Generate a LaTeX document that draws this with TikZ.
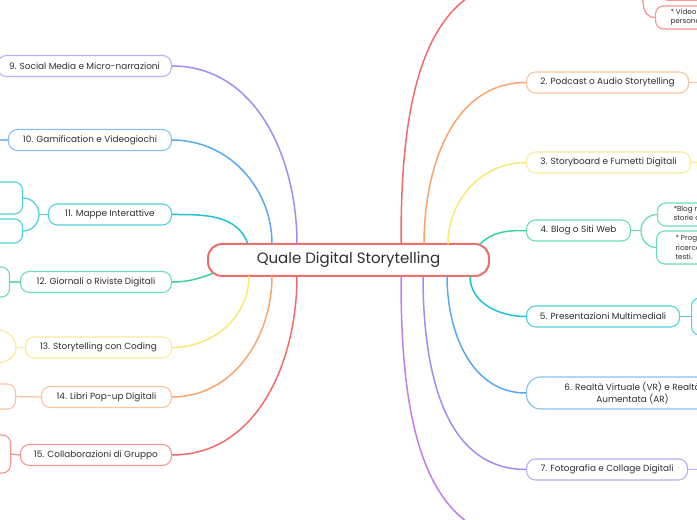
\documentclass[tikz,border=0pt]{standalone}
\usepackage{fontspec}
\setmainfont{Poppins}
\usepackage{xcolor}
\usepackage{tikz}
\usetikzlibrary{positioning}

\definecolor{ink}{HTML}{2E2E2E}
\definecolor{redc}{HTML}{F26B6B}
\definecolor{redb}{HTML}{F79494}
\definecolor{orangec}{HTML}{FBA46C}
\definecolor{orangeb}{HTML}{FCC39D}
\definecolor{yellowc}{HTML}{FBE773}
\definecolor{yellowb}{HTML}{FBEB9A}
\definecolor{mintc}{HTML}{3CCFA0}
\definecolor{mintb}{HTML}{6ADDB8}
\definecolor{cyanc}{HTML}{1FC3D3}
\definecolor{cyanb}{HTML}{4FD2DE}
\definecolor{bluec}{HTML}{58A8F4}
\definecolor{blueb}{HTML}{85BFF7}
\definecolor{violetc}{HTML}{A08BF7}
\definecolor{violetb}{HTML}{BBADF9}
\definecolor{magentac}{HTML}{C47BF0}
\definecolor{magentab}{HTML}{D6A3F4}

\begin{document}
\begin{tikzpicture}[x=1pt, y=1pt,
	every node/.style={text=ink},
	box/.style={draw, fill=white, rounded corners=9pt, line width=1.1pt, minimum height=21pt, inner sep=0pt, font=\fontsize{8.9}{11.5}\selectfont},
	leaf/.style={draw, fill=white, rounded corners=8pt, line width=1.1pt, inner xsep=16pt, inner ysep=0pt, align=left, font=\fontsize{7.2}{9.4}\selectfont},
	link/.style={line width=1.5pt},
	sublink/.style={line width=1.3pt}]
			\fill[white] (0,0) rectangle (697,520);
			\useasboundingbox (0,0) rectangle (697,520);
			% centre
			\node[box, draw=redc, line width=2pt, rounded corners=14pt, minimum width=281pt, minimum height=32pt, font=\fontsize{15}{17}\selectfont] (cen) at (348.5,260) {Quale Digital Storytelling};
			% right branches
			\node[box, draw=redb, minimum width=104pt, anchor=west] (n1) at (526,540) {};
			\node[box, draw=orangeb, minimum width=162pt, anchor=west] (n2) at (526,437.5) {2. Podcast o Audio Storytelling};
			\node[box, draw=yellowb, minimum width=164pt, anchor=west] (n3) at (526,357.5) {3. Storyboard e Fumetti Digitali};
			\node[box, draw=mintb, minimum width=104pt, anchor=west] (n4) at (526,289.5) {4. Blog o Siti Web};
			\node[box, draw=cyanb, minimum width=153pt, anchor=west] (n5) at (526,203.5) {5. Presentazioni Multimediali};
			\node[box, draw=blueb, minimum width=212pt, minimum height=32pt, rounded corners=14pt, align=center, anchor=west] (n6) at (526,127) {6. Realtà Virtuale (VR) e Realtà\\Aumentata (AR)};
			\node[box, draw=violetb, minimum width=161pt, anchor=west] (n7) at (526,50.5) {7. Fotografia e Collage Digitali};
			\node[box, draw=magentab, minimum width=104pt, anchor=west] (n8) at (526,-20) {};
			% left branches
			\node[box, draw=violetb, minimum width=174pt, anchor=east] (n9) at (172,454) {9. Social Media e Micro-narrazioni};
			\node[box, draw=blueb, minimum width=163pt, anchor=east] (n10) at (172,380) {10. Gamification e Videogiochi};
			\node[box, draw=cyanb, minimum width=123pt, anchor=east] (n11) at (172,305.5) {11. Mappe Interattive};
			\node[box, draw=mintb, minimum width=151pt, anchor=east] (n12) at (172,238) {12. Giornali o Riviste Digitali};
			\node[box, draw=yellowb, minimum width=146pt, anchor=east] (n13) at (172,172.5) {13. Storytelling con Coding};
			\node[box, draw=orangeb, minimum width=130pt, anchor=east] (n14) at (172,123) {14. Libri Pop-up Digitali};
			\node[box, draw=redb, minimum width=151pt, anchor=east] (n15) at (172,65) {15. Collaborazioni di Gruppo};
			% leaves
			\node[leaf, draw=redb, minimum width=100pt, minimum height=70pt, anchor=south west] (c1a) at (660,519) {};
			\node[leaf, draw=redb, minimum height=23pt, inner xsep=15pt, anchor=west] (c1b) at (655,502.5) {* Video\\personalizzati};
			\node[box, draw=orangeb, minimum width=80pt, anchor=west] (c2) at (705,437.5) {};
			\node[box, draw=yellowb, minimum width=80pt, anchor=west] (c3) at (705,357.5) {};
			\node[leaf, draw=mintb, minimum height=23pt, anchor=west] (c4a) at (657,305.5) {*Blog narrativi con\\storie di viaggio};
			\node[leaf, draw=mintb, minimum height=33pt, inner xsep=19pt, anchor=west] (c4b) at (656,272.5) {* Progetti di\\ricerca sui\\testi.};
			\node[leaf, draw=cyanb, minimum width=80pt, minimum height=37pt, anchor=west] (c5) at (691,203.5) {};
			\node[box, draw=violetb, minimum width=80pt, anchor=west] (c7) at (705,50.5) {};
			\node[box, draw=blueb, minimum width=80pt, anchor=east] (c10) at (-5,380) {};
			\node[leaf, draw=cyanb, minimum width=80pt, minimum height=32pt, anchor=east] (c11a) at (23,322) {};
			\node[leaf, draw=cyanb, minimum width=80pt, minimum height=24pt, anchor=east] (c11b) at (23,289) {};
			\node[leaf, draw=mintb, minimum width=80pt, minimum height=30pt, anchor=east] (c12) at (10,238) {};
			\node[leaf, draw=yellowb, minimum width=80pt, minimum height=24pt, anchor=east] (c13a) at (-3,190) {};
			\node[leaf, draw=yellowb, minimum width=80pt, minimum height=24pt, anchor=east] (c13b) at (-3,157) {};
			\node[leaf, draw=orangeb, minimum width=80pt, minimum height=25pt, anchor=east] (c14) at (16,123.5) {};
			\node[leaf, draw=redb, minimum width=80pt, minimum height=38pt, anchor=east] (c15) at (11,66) {};
			% points on the centre box
			\coordinate (t1) at (401,276);
			\coordinate (t2) at (424,276);
			\coordinate (t3) at (448,276);
			\coordinate (t4) at (479,275);
			\coordinate (b5) at (470,244);
			\coordinate (b6) at (447,244);
			\coordinate (b7) at (423,244);
			\coordinate (b8) at (401,244);
			\coordinate (t9) at (297,276);
			\coordinate (t10) at (272,276);
			\coordinate (t11) at (248,276);
			\coordinate (b12) at (214,247);
			\coordinate (b13) at (249,244);
			\coordinate (b14) at (272,244);
			\coordinate (b15) at (297,244);
			% main links
			\draw[link, redc] (t1) to[out=90, in=180] (n1.west);
			\draw[link, orangec] (t2) to[out=90, in=180] (n2.west);
			\draw[link, yellowc] (t3) to[out=90, in=180] (n3.west);
			\draw[link, mintc] (t4) to[out=45, in=180] (n4.west);
			\draw[link, cyanc] (b5) to[out=-90, in=180] (n5.west);
			\draw[link, bluec] (b6) to[out=-90, in=180] (n6.west);
			\draw[link, violetc] (b7) to[out=-90, in=180] (n7.west);
			\draw[link, magentac] (b8) to[out=-90, in=180] (n8.west);
			\draw[link, violetc] (t9) to[out=90, in=0] (n9.east);
			\draw[link, bluec] (t10) to[out=90, in=0] (n10.east);
			\draw[link, cyanc] (t11) to[out=110, in=0] (n11.east);
			\draw[link, mintc] (b12) to[out=200, in=0] (n12.east);
			\draw[link, yellowc] (b13) to[out=-90, in=0] (n13.east);
			\draw[link, orangec] (b14) to[out=-90, in=0] (n14.east);
			\draw[link, redc] (b15) to[out=-90, in=0] (n15.east);
			% sub links
			\coordinate (j1) at (643,540);
			\coordinate (j4) at (641,289.5);
			\coordinate (j11) at (39,305.5);
			\coordinate (j13) at (16,172.5);
			\draw[sublink, redb] (n1.east) -- (j1);
			\draw[sublink, redb] (j1) to[out=90, in=180] (c1a.west);
			\draw[sublink, redb] (j1) to[out=-90, in=180] (c1b.west);
			\draw[sublink, orangeb] (n2.east) -- (c2.west);
			\draw[sublink, yellowb] (n3.east) -- (c3.west);
			\draw[sublink, mintb] (n4.east) -- (j4);
			\draw[sublink, mintb] (j4) to[out=90, in=180] (c4a.west);
			\draw[sublink, mintb] (j4) to[out=-90, in=180] (c4b.west);
			\draw[sublink, cyanb] (n5.east) -- (c5.west);
			\draw[sublink, violetb] (n7.east) -- (c7.west);
			\draw[sublink, blueb] (n10.west) -- (c10.east);
			\draw[sublink, cyanb] (n11.west) -- (j11);
			\draw[sublink, cyanb] (j11) to[out=90, in=0] (c11a.east);
			\draw[sublink, cyanb] (j11) to[out=-90, in=0] (c11b.east);
			\draw[sublink, mintb] (n12.west) -- (c12.east);
			\draw[sublink, yellowb] (n13.west) -- (j13);
			\draw[sublink, yellowb] (j13) to[out=90, in=0] (c13a.east);
			\draw[sublink, yellowb] (j13) to[out=-90, in=0] (c13b.east);
			\draw[sublink, orangeb] (n14.west) -- (c14.east);
			\draw[sublink, redb] (n15.west) -- (c15.east);
		\end{tikzpicture}
\end{document}
